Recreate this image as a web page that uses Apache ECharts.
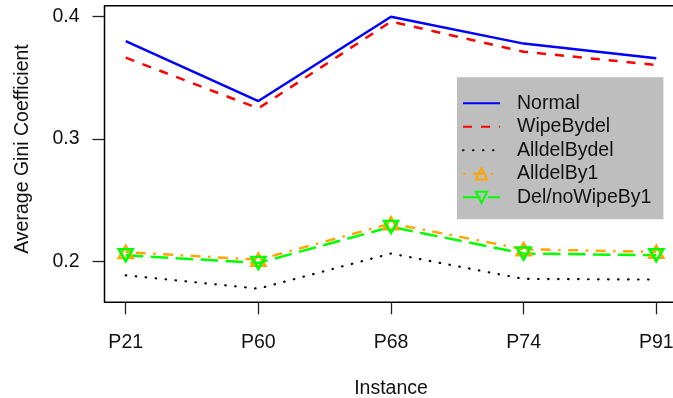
<!DOCTYPE html>
<html><head><meta charset="utf-8">
<script src="https://cdn.jsdelivr.net/npm/echarts@6/dist/echarts.min.js"></script>
<style>html,body{margin:0;padding:0;background:#fff}#c{width:673px;height:398px}</style>
</head><body><div id="c"></div>
<script>
var categories = ["P21", "P60", "P68", "P74", "P91"];
var yTicks = [0.2, 0.3, 0.4];
var normal = [0.380, 0.331, 0.400, 0.378, 0.366];
var wipeBydel = [0.3665, 0.325, 0.396, 0.3714, 0.3605];
var alldelBydel = [0.1885, 0.1776, 0.2063, 0.1855, 0.185];
var alldelBy1 = [0.2075, 0.2012, 0.2309, 0.2098, 0.2076];
var delNoWipeBy1 = [0.2049, 0.1986, 0.2281, 0.2063, 0.2049];
var seriesNames = ["Normal", "WipeBydel", "AlldelBydel", "AlldelBy1", "Del/noWipeBy1"];

function pairs(arr){ return arr.map(function(v,i){ return [i+1, v]; }); }
var FONT = "Liberation Sans, Arial, Helvetica, sans-serif";
var FS = 19.5;
var chart = echarts.init(document.getElementById('c'), null, {renderer:'canvas'});
chart.setOption({
  animation:false,
  backgroundColor:'#fff',
  textStyle:{fontFamily:FONT},
  grid:{show:true, left:104.5, top:5.7, width:573, height:296.6, containLabel:false, outerBoundsMode:'none',
    borderColor:'#000', borderWidth:1.5, backgroundColor:'transparent'},
  xAxis:{type:'value', min:0.84, max:5.16,
    name:'Instance', nameLocation:'middle', nameGap:76,
    nameTextStyle:{fontSize:FS, color:'#111', fontFamily:FONT},
    axisLine:{show:false},
    axisTick:{show:true, length:12, customValues:[1,2,3,4,5], lineStyle:{color:'#222', width:1.3}},
    axisLabel:{show:true, customValues:[1,2,3,4,5], margin:30, fontSize:FS, color:'#111', fontFamily:FONT,
      formatter:function(v){ return categories[Math.round(v)-1]; }},
    splitLine:{show:false}},
  yAxis:{type:'value', min:0.1664, max:0.409,
    name:'Average Gini Coefficient', nameLocation:'middle', nameGap:72, nameRotate:90,
    nameTextStyle:{fontSize:FS, color:'#111', fontFamily:FONT, padding:[0,0,0,10]},
    axisLine:{show:false},
    axisTick:{show:true, length:12, customValues:yTicks, lineStyle:{color:'#222', width:1.3}},
    axisLabel:{show:true, customValues:yTicks, margin:25, fontSize:FS, color:'#111', fontFamily:FONT,
      formatter:function(v){ return v.toFixed(1); }},
    splitLine:{show:false}},
  legend:{show:true, orient:'vertical', left:457, top:77.3, backgroundColor:'#bebebe', borderWidth:0,
    padding:[16,12,12,5], itemWidth:37, itemHeight:14, itemGap:3.5, selectedMode:false,
    textStyle:{fontSize:FS, color:'#111', fontFamily:FONT, lineHeight:20, padding:[0,0,0,12]},
    data:[
      {name:seriesNames[0], itemStyle:{opacity:0}},
      {name:seriesNames[1], itemStyle:{opacity:0}},
      {name:seriesNames[2], itemStyle:{opacity:0}},
      {name:seriesNames[3]},
      {name:seriesNames[4]}
    ]},
  series:[
    {name:seriesNames[0], type:'line', data:pairs(normal), symbol:'none', lineStyle:{color:'#0000ff', width:2.5}, itemStyle:{color:'#0000ff'}},
    {name:seriesNames[1], type:'line', data:pairs(wipeBydel), symbol:'none', lineStyle:{color:'#ff0000', width:2.5, type:[9,9]}, itemStyle:{color:'#ff0000'}},
    {name:seriesNames[2], type:'line', data:pairs(alldelBydel), symbol:'none', lineStyle:{color:'#000', width:2.2, type:[0.5,9.5], cap:'round'}, itemStyle:{color:'#000'}},
    {name:seriesNames[3], type:'line', data:pairs(alldelBy1), symbol:'triangle', symbolSize:[14,12], showSymbol:true,
      lineStyle:{color:'#ffa500', width:2.5, type:[2.5,7.5,10,7.5]}, itemStyle:{color:'rgba(0,0,0,0)', borderColor:'#ffa500', borderWidth:2.5}},
    {name:seriesNames[4], type:'line', data:pairs(delNoWipeBy1), symbol:'triangle', symbolRotate:180, symbolSize:[14,12], showSymbol:true,
      lineStyle:{color:'#00ff00', width:2.5, type:[17.5,7.5]}, itemStyle:{color:'rgba(0,0,0,0)', borderColor:'#00ff00', borderWidth:2.5}}
  ]
});
</script></body></html>
